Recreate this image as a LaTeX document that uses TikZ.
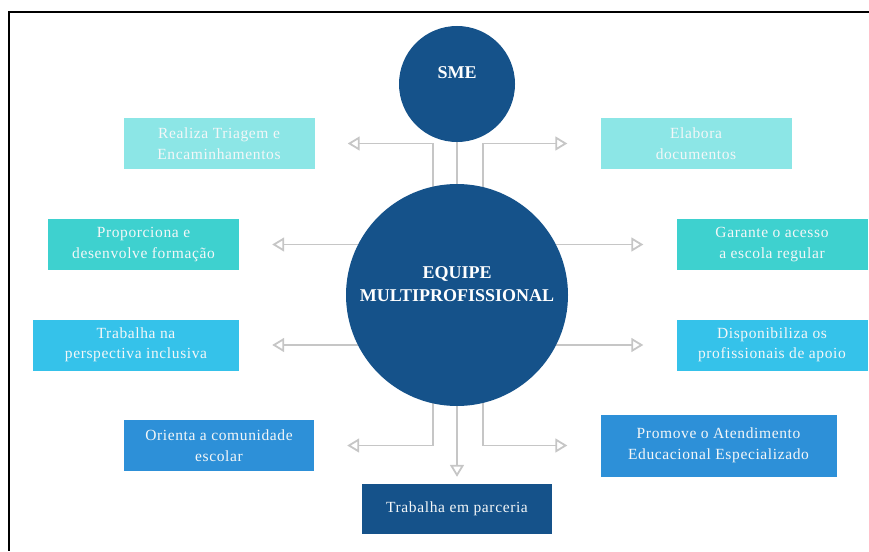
\documentclass[tikz,border=0pt]{standalone}
\usepackage{fontspec}
\setmainfont{Liberation Serif}
\newfontfamily\caixafont[LetterSpace=4]{Liberation Serif}
\usetikzlibrary{arrows.meta, backgrounds}
\definecolor{azulEscuro}{HTML}{15528A}
\definecolor{cianoClaro}{HTML}{8CE6E6}
\definecolor{turquesa}{HTML}{3ED1CF}
\definecolor{celeste}{HTML}{35C2EA}
\definecolor{azulMedio}{HTML}{2D90D8}
\definecolor{cinza}{HTML}{C6C6C6}
\definecolor{textoClaro}{HTML}{F4F7F8}

\begin{document}
\begin{tikzpicture}[x=1pt, y=-1pt,
        caixa/.style={rectangle, minimum width=191pt, minimum height=51pt, inner sep=0pt,
                align=center, text=textoClaro, font=\caixafont\fontsize{15.5}{20.5}\selectfont},
        circulo/.style={circle, fill=azulEscuro, inner sep=0pt},
        rotulo/.style={align=center, text=white, font=\bfseries\fontsize{18}{23}\selectfont},
        seta/.style={draw=cinza, line width=1.8pt, -{Triangle[open, length=12pt, width=14pt]}, shorten >=33pt}]
        \useasboundingbox (0,0) rectangle (869,551);

        % circulos
        \node[circulo, minimum size=116pt, label={[rotulo, yshift=11pt]center:SME}] (sme) at (457,84) {};
        \node[circulo, minimum size=222pt, label={[rotulo, yshift=11pt]center:EQUIPE\\MULTIPROFISSIONAL}] (equipe) at (457,295) {};

        % caixas
        \node[caixa, fill=cianoClaro] (triagem) at (219,143.5) {Realiza Triagem e\\Encaminhamentos};
        \node[caixa, fill=cianoClaro] (documentos) at (696,143.5) {Elabora\\documentos};
        \node[caixa, fill=turquesa] (formacao) at (143.5,244.5) {Proporciona e\\desenvolve formação};
        \node[caixa, fill=turquesa] (acesso) at (772,244.5) {Garante o acesso\\a escola regular};
        \node[caixa, fill=celeste, minimum width=206pt] (inclusiva) at (136,345) {Trabalha na\\perspectiva inclusiva};
        \node[caixa, fill=celeste] (apoio) at (772,345) {Disponibiliza os\\profissionais de apoio};
        \node[caixa, fill=azulMedio, minimum width=190pt] (comunidade) at (219,445.5) {Orienta a comunidade\\escolar};
        \node[caixa, fill=azulMedio, minimum width=236pt, minimum height=62pt] (aee) at (718.5,445.5) {Promove o Atendimento\\Educacional Especializado};
        \node[caixa, fill=azulEscuro, minimum width=190pt, minimum height=50pt] (parceria) at (457,509) {Trabalha em parceria};

        % setas
        \begin{pgfonlayer}{background}
                \draw[draw=cinza, line width=1.8pt] (sme) -- (equipe);
                \draw[seta] ([xshift=-24pt]equipe.center) |- (triagem.east);
                \draw[seta] ([xshift=26pt]equipe.center) |- (documentos.west);
                \draw[seta] (equipe.center |- formacao.east) -- (formacao.east);
                \draw[seta] (equipe.center |- acesso.west) -- (acesso.west);
                \draw[seta] (equipe.center |- inclusiva.east) -- (inclusiva.east);
                \draw[seta] (equipe.center |- apoio.west) -- (apoio.west);
                \draw[seta] ([xshift=-24pt]equipe.center) |- (comunidade.east);
                \draw[seta] ([xshift=26pt]equipe.center) |- (aee.west);
                \draw[seta, shorten >=7pt] (equipe) -- (parceria);
        \end{pgfonlayer}

        % moldura
        \draw[line width=1.8pt] (869,12.3) -- (9.3,12.3) -- (9.3,551);
\end{tikzpicture}
\end{document}
